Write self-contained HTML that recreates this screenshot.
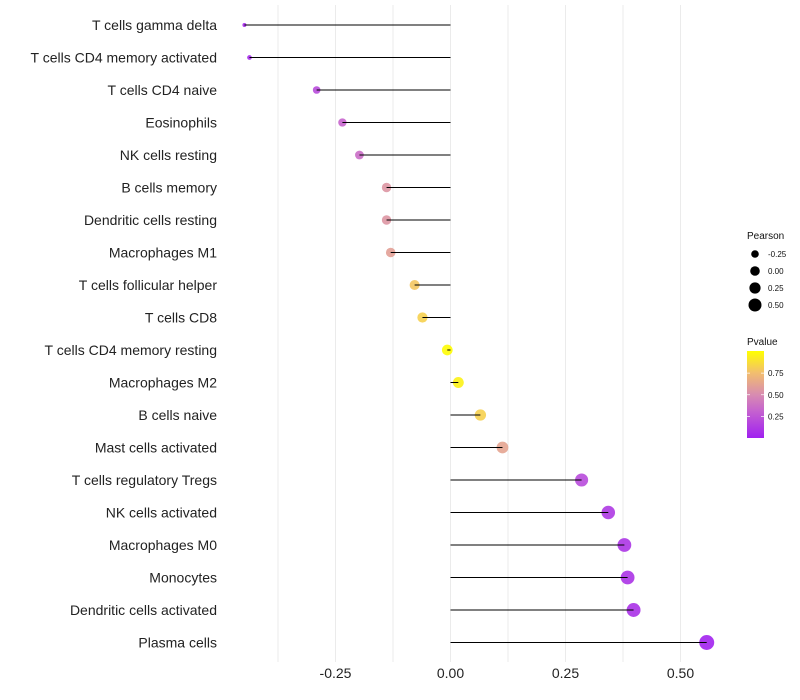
<!DOCTYPE html>
<html><head><meta charset="utf-8"><style>
body{margin:0;background:#fff;}
svg{display:block;font-family:"Liberation Sans",Arial,sans-serif;}
</style></head><body>
<svg id="chart" width="800" height="700"></svg>
<script>
const categories=["T cells gamma delta","T cells CD4 memory activated","T cells CD4 naive","Eosinophils","NK cells resting","B cells memory","Dendritic cells resting","Macrophages M1","T cells follicular helper","T cells CD8","T cells CD4 memory resting","Macrophages M2","B cells naive","Mast cells activated","T cells regulatory  Tregs ","NK cells activated","Macrophages M0","Monocytes","Dendritic cells activated","Plasma cells"];
const pearson=[-0.448,-0.437,-0.291,-0.235,-0.198,-0.139,-0.139,-0.130,-0.078,-0.061,-0.007,0.017,0.065,0.113,0.285,0.343,0.378,0.385,0.398,0.557];
const pvalue=[0.04,0.05,0.2,0.32,0.36,0.55,0.55,0.6,0.78,0.82,0.99,0.95,0.82,0.62,0.2,0.12,0.1,0.09,0.08,0.02];
const xTicks=[-0.25,0,0.25,0.5];
const xTickLabels=["-0.25","0.00","0.25","0.50"];
const xMinor=[-0.375,-0.125,0.125,0.375];
const sizeLegend=[-0.25,0,0.25,0.5];
const sizeLegendLabels=["-0.25","0.00","0.25","0.50"];
const colorTicks=[0.25,0.5,0.75];
const colorTickLabels=["0.25","0.50","0.75"];

const NS="http://www.w3.org/2000/svg";
const svg=document.getElementById('chart');
function mk(t,a,p){const e=document.createElementNS(NS,t);for(const k in a)e.setAttribute(k,a[k]);(p||svg).appendChild(e);return e;}
const x=v=>450.5+v*460;
const y=i=>25+i*32.5;
const vmin=-0.448,vmax=0.557;
const rad=v=>2+5.5*Math.pow(Math.max(0,(v-vmin)/(vmax-vmin)),0.6);
function lerp(a,b,t){return Math.round(a+(b-a)*t);}
const stops=[[0,[160,32,240]],[0.3,[196,96,208]],[0.5,[216,140,176]],[0.75,[242,190,110]],[1,[255,255,0]]];
function col(p){for(let i=1;i<stops.length;i++){if(p<=stops[i][0]){const a=stops[i-1],b=stops[i];const t=(p-a[0])/(b[0]-a[0]);return `rgb(${lerp(a[1][0],b[1][0],t)},${lerp(a[1][1],b[1][1],t)},${lerp(a[1][2],b[1][2],t)})`;}}return 'rgb(255,255,0)';}

xMinor.concat(xTicks).forEach(v=>{const g=mk('line',{x1:x(v),x2:x(v),y1:5,y2:662,stroke:'#ebebeb','stroke-width':1});

});
xTicks.forEach((v,i)=>{const t=mk('text',{x:x(v),y:678,'text-anchor':'middle','font-size':14,fill:'#222'});t.textContent=xTickLabels[i];

});
categories.forEach((c,i)=>{
const t=mk('text',{x:217,y:y(i)+5,'text-anchor':'end','font-size':14,fill:'#222'});t.textContent=c;


const p=mk('circle',{cx:x(pearson[i]),cy:y(i),r:rad(pearson[i]),fill:col(pvalue[i]),'fill-opacity':0.9});


const l=mk('line',{x1:x(0),x2:x(pearson[i]),y1:y(i),y2:y(i),stroke:'#000','stroke-width':1});


});
const st=mk('text',{x:747,y:239,'font-size':10,fill:'#111'});st.textContent='Pearson';


sizeLegend.forEach((v,i)=>{const cy=254+i*17;
const c=mk('circle',{cx:755,cy:cy,r:[3.8,4.8,5.6,6.5][i],fill:'#000'});


const t=mk('text',{x:768,y:cy+3,'font-size':8,fill:'#111'});t.textContent=sizeLegendLabels[i];

});
const ct=mk('text',{x:747,y:345,'font-size':10,fill:'#111'});ct.textContent='Pvalue';


const defs=mk('defs',{});const lg=mk('linearGradient',{id:'pg',x1:0,y1:1,x2:0,y2:0},defs);
stops.forEach(s=>mk('stop',{offset:s[0],'stop-color':`rgb(${s[1].join(',')})`},lg));
const bar=mk('rect',{x:747,y:351,width:17,height:87,fill:'url(#pg)'});


colorTicks.forEach((v,i)=>{const yy=438-v*86.5;
mk('line',{x1:747,x2:750,y1:yy,y2:yy,stroke:'#fff','stroke-width':0.7});mk('line',{x1:761,x2:764,y1:yy,y2:yy,stroke:'#fff','stroke-width':0.7});
const t=mk('text',{x:768,y:yy+3,'font-size':8,fill:'#111'});t.textContent=colorTickLabels[i];

});
</script>
</body></html>
